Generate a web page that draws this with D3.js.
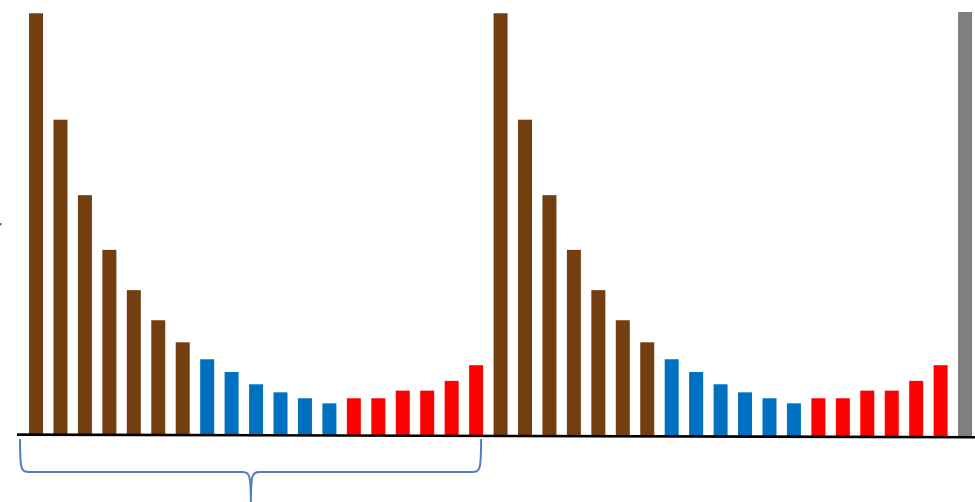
<!DOCTYPE html>
<html>
<head>
<meta charset="utf-8">
<script src="https://cdn.jsdelivr.net/npm/d3@7"></script>
<style>
  html, body { margin: 0; padding: 0; background: #fff; }
  svg { display: block; }
</style>
</head>
<body>
<svg id="chart" width="975" height="502"></svg>
<script>
// ---- data ----
const groups = ["Group 1", "Group 2"];
const brownValues = [99.7, 74.6, 56.8, 43.9, 34.4, 27.3, 22.1];
const blueValues  = [18.1, 15.1, 12.2, 10.3, 8.9, 7.7];
const redValues   = [8.9, 8.9, 10.7, 10.7, 13.0, 16.7];
const grayValues  = [100];

const colors = { brown: "#743f10", blue: "#0070c0", red: "#ff0000", gray: "#7f7f7f" };

// build bar list
const bars = [];
groups.forEach(g => {
  brownValues.forEach(v => bars.push({ series: "brown", value: v, group: g }));
  blueValues.forEach(v => bars.push({ series: "blue", value: v, group: g }));
  redValues.forEach(v => bars.push({ series: "red", value: v, group: g }));
});
grayValues.forEach(v => bars.push({ series: "gray", value: v, group: "total" }));
bars.forEach((d, i) => d.key = i);

const svg = d3.select("#chart");
const baseY = 436;
const topY = 12;

const x = d3.scaleBand()
  .domain(bars.map(d => d.key))
  .range([16.8, 984.3])
  .paddingInner(0.4274)
  .paddingOuter(0.5);

const y = d3.scaleLinear().domain([0, 100]).range([baseY, topY]);

svg.append("g")
  .selectAll("rect")
  .data(bars)
  .join("rect")
  .attr("x", d => x(d.key))
  .attr("width", x.bandwidth())
  .attr("y", d => y(d.value))
  .attr("height", d => y(0) - y(d.value))
  .attr("fill", d => colors[d.series]);

// baseline axis (slightly tilted as in the reference)
svg.append("line")
  .attr("x1", 17).attr("y1", 434.6)
  .attr("x2", 975).attr("y2", 437.2)
  .attr("stroke", "#000")
  .attr("stroke-width", 2.6);

// curly brace under first group
const bxL = x(0) - 9, bxR = x(18) + x.bandwidth() - 2;
const bxM = (bxL + bxR) / 2 + 0.3;
const by0 = 439, by1 = 472, by2 = 503;
const brace = d3.path();
brace.moveTo(bxL, by0);
brace.bezierCurveTo(bxL, by1 - 2, bxL + 1, by1, bxL + 9, by1);
brace.lineTo(bxM - 8, by1);
brace.bezierCurveTo(bxM - 1, by1, bxM, by1 + 4, bxM, by2);
brace.moveTo(bxM, by2);
brace.bezierCurveTo(bxM, by1 + 4, bxM + 1, by1, bxM + 8, by1);
brace.lineTo(bxR - 9, by1);
brace.bezierCurveTo(bxR - 1, by1, bxR, by1 - 2, bxR, by0);
svg.append("path")
  .attr("d", brace.toString())
  .attr("fill", "none")
  .attr("stroke", "#4f7fbf")
  .attr("stroke-width", 2);

// tiny mark at left edge
svg.append("rect")
  .attr("x", 0).attr("y", 223)
  .attr("width", 1.5).attr("height", 2.5)
  .attr("fill", "#4f6fb0");
</script>
</body>
</html>
